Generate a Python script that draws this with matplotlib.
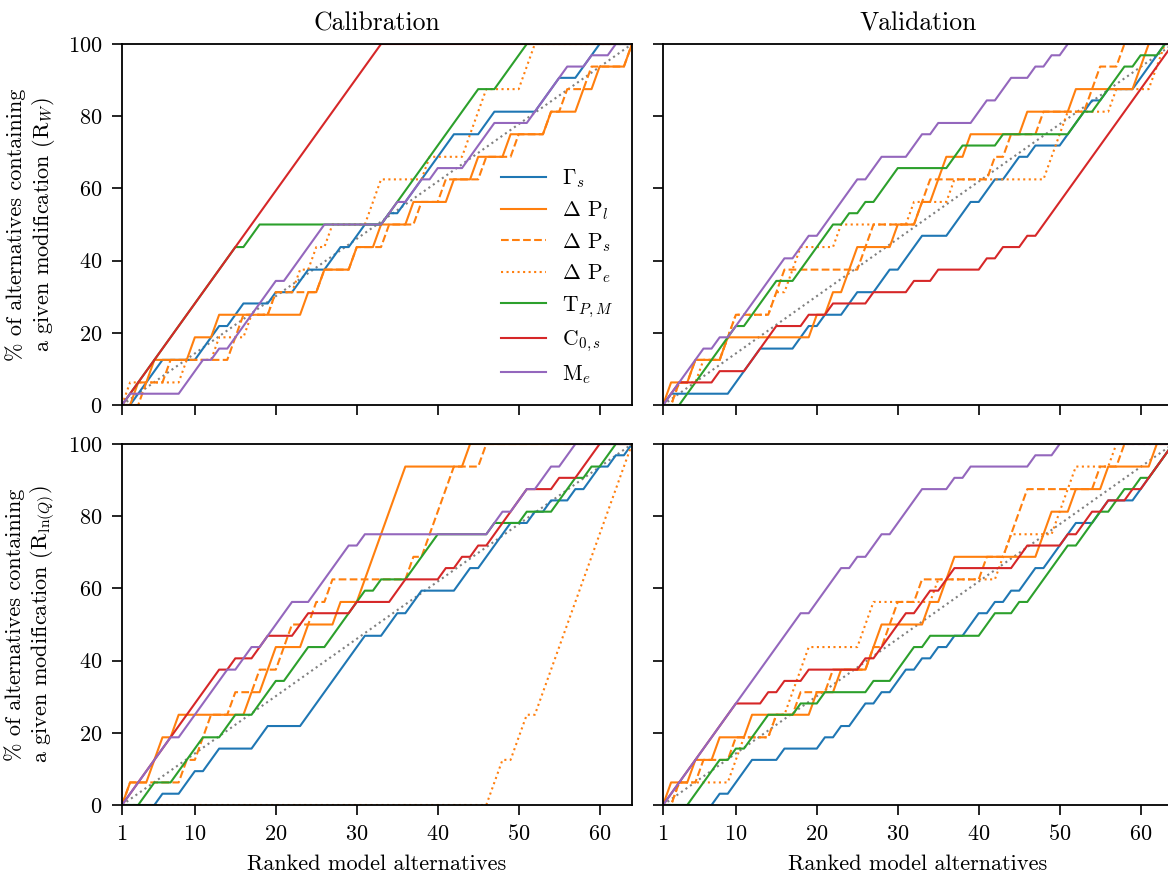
import numpy as np
import matplotlib
matplotlib.use("Agg")
import matplotlib.pyplot as plt

plt.rcParams['font.family'] = 'serif'
plt.rcParams['font.serif'] = ['cmr10', 'DejaVu Serif']
plt.rcParams['mathtext.fontset'] = 'cm'
plt.rcParams['axes.formatter.use_mathtext'] = True
plt.rcParams['axes.unicode_minus'] = False

N_ALT = 64
series_labels = [r'$\Gamma_s$', r'$\Delta$ P$_l$', r'$\Delta$ P$_s$', r'$\Delta$ P$_e$',
                 r'T$_{P,M}$', r'C$_{0,s}$', r'M$_e$']
series_colors = ['#1f77b4', '#ff7f0e', '#ff7f0e', '#ff7f0e', '#2ca02c', '#d62728', '#9467bd']
series_styles = ['-', '-', '--', ':', '-', '-', '-']

# Ranks (1..64) of the alternatives containing each modification
# Calibration, R_W
cal_w_gamma = [2,3,4,5,10,11,12,14,15,19,22,23,26,27,29,30,33,35,36,37,38,39,40,41,45,46,52,53,54,57,58,59]
cal_w_dpl = [2,4,9,12,23,25,29,32,36,41,44,48,53,57,59,63]
cal_w_dps = [3,6,14,15,19,25,29,33,37,40,45,49,53,55,58,63]
cal_w_dpe = [1,8,12,16,19,22,24,26,31,32,38,43,44,45,50,51]
cal_w_t = [1,2,3,4,5,6,7,8,9,10,11,12,13,14,16,17,33,34,35,36,37,38,39,40,41,42,43,44,47,48,49,50]
cal_w_c = [1,2,3,4,5,6,7,8,9,10,11,12,13,14,15,16,17,18,19,20,21,22,23,24,25,26,27,28,29,30,31,32]
cal_w_m = [1,8,9,10,12,14,15,16,17,18,19,21,22,23,24,25,33,34,36,37,39,43,44,45,46,51,52,53,54,55,58,61]

# Validation, R_W
val_w_gamma = [1,9,10,11,12,17,18,20,23,24,27,28,30,31,32,36,37,38,40,41,43,44,46,50,51,52,53,55,59,60,61,62]
val_w_dpl = [1,4,8,19,21,23,24,29,32,34,35,38,45,51,59,60]
val_w_dps = [2,4,8,9,14,15,25,26,32,33,41,43,47,53,54,57]
val_w_dpe = [2,5,8,9,14,16,17,22,31,36,48,49,50,56,61,62]
val_w_t = [3,4,5,6,7,8,9,11,12,13,14,17,18,19,20,21,23,25,27,28,29,36,37,42,51,52,54,55,56,57,59,62]
val_w_c = [1,2,7,11,12,13,14,18,21,26,31,34,40,42,45,47,48,49,50,51,52,53,54,55,56,57,58,59,60,61,62,63]
val_w_m = [1,2,3,4,5,7,9,10,11,12,13,14,15,17,18,20,21,22,23,24,26,27,31,32,34,39,40,42,43,46,48,50]

# Calibration, R_ln(Q)
cal_q_gamma = [5,8,9,11,12,17,18,23,24,25,26,27,28,29,30,33,34,36,37,42,43,45,46,47,48,51,53,56,58,59,61,63]
cal_q_dpl = [1,4,5,7,16,18,19,23,27,30,31,32,33,34,35,43]
cal_q_dps = [1,8,10,11,14,17,20,21,24,26,36,38,39,40,41,45]
cal_q_dpe = [46,47,49,50,52,53,54,55,56,57,58,59,60,61,62,63]
cal_q_t = [3,4,7,8,9,10,13,14,17,18,19,21,22,23,26,27,28,29,30,32,36,37,38,39,46,50,54,55,56,58,60,61]
cal_q_c = [1,2,3,4,5,6,7,8,9,10,11,12,14,17,18,22,23,29,34,35,40,42,44,46,47,48,49,50,54,57,58,59]
cal_q_m = [1,2,3,4,5,6,8,9,10,11,12,13,15,16,18,19,20,21,24,25,26,27,28,30,46,47,49,50,52,53,55,56]

# Validation, R_ln(Q)
val_q_gamma = [7,9,10,11,15,20,22,24,25,27,29,30,32,34,36,38,39,41,43,45,46,48,49,50,51,54,55,59,60,61,62,63]
val_q_dpl = [1,4,7,11,19,22,26,27,33,35,36,47,48,51,55,61]
val_q_dps = [2,5,9,14,17,21,26,28,29,32,40,43,44,45,54,57]
val_q_dpe = [2,9,10,14,16,17,18,25,26,34,42,43,49,50,51,56]
val_q_t = [4,5,6,7,9,11,12,13,17,20,26,29,30,31,33,40,41,44,46,47,48,49,50,52,53,54,56,57,59,61,62,63]
val_q_c = [1,2,3,4,5,6,7,8,9,13,15,18,25,27,28,29,30,32,33,35,36,44,45,50,52,53,55,58,60,61,62,63]
val_q_m = [1,2,3,4,5,6,7,8,9,10,11,12,13,14,15,16,17,19,20,21,22,24,26,27,29,30,31,32,36,38,46,49]

panels = [
    [cal_w_gamma, cal_w_dpl, cal_w_dps, cal_w_dpe, cal_w_t, cal_w_c, cal_w_m],
    [val_w_gamma, val_w_dpl, val_w_dps, val_w_dpe, val_w_t, val_w_c, val_w_m],
    [cal_q_gamma, cal_q_dpl, cal_q_dps, cal_q_dpe, cal_q_t, cal_q_c, cal_q_m],
    [val_q_gamma, val_q_dpl, val_q_dps, val_q_dpe, val_q_t, val_q_c, val_q_m],
]
col_titles = ['Calibration', 'Validation']
row_ylabels = ['% of alternatives containing\na given modification (R$_W$)',
               '% of alternatives containing\na given modification (R$_{\\ln(Q)}$)']
x_ticks = [1, 10, 20, 30, 40, 50, 60]
y_ticks = [0, 20, 40, 60, 80, 100]


def cumulative(ranks):
    b = np.zeros(N_ALT)
    b[np.asarray(ranks) - 1] = 1
    return np.concatenate([[0.0], np.cumsum(b)]) / b.sum() * 100.0


W, H = 1168, 872
fig = plt.figure(figsize=(W / 100, H / 100), dpi=100)
lefts = [122, 663]
tops = [44, 444]
aw, ah = 510, 361
x = np.arange(1, N_ALT + 2)

for r in range(2):
    for c in range(2):
        ax = fig.add_axes([lefts[c] / W, 1 - (tops[r] + ah) / H, aw / W, ah / H])
        ax.plot([1, N_ALT], [0, 100], color='gray', ls=':', lw=1.5)
        for i, ranks in enumerate(panels[r * 2 + c]):
            ax.plot(x, cumulative(ranks), color=series_colors[i], ls=series_styles[i],
                    lw=1.5, label=series_labels[i])
        ax.set_xlim(1, N_ALT)
        ax.set_ylim(0, 100)
        ax.set_xticks(x_ticks)
        ax.set_yticks(y_ticks)
        ax.tick_params(labelsize=16, length=7, width=1.2, pad=7)
        for s in ax.spines.values():
            s.set_linewidth(1.3)
        if r == 0:
            ax.set_title(col_titles[c], fontsize=18.5, pad=10)
            ax.tick_params(labelbottom=False)
        else:
            ax.set_xlabel('Ranked model alternatives', fontsize=16, labelpad=7)
        if c == 0:
            ax.set_ylabel(row_ylabels[r], fontsize=16, labelpad=8)
        else:
            ax.tick_params(labelleft=False)
        if r == 0 and c == 0:
            ax.legend(loc='lower right', frameon=False,
                      fontsize=15.5, handlelength=2.1, handletextpad=0.75, labelspacing=0.42)

fig.savefig('out.png', dpi=100)
